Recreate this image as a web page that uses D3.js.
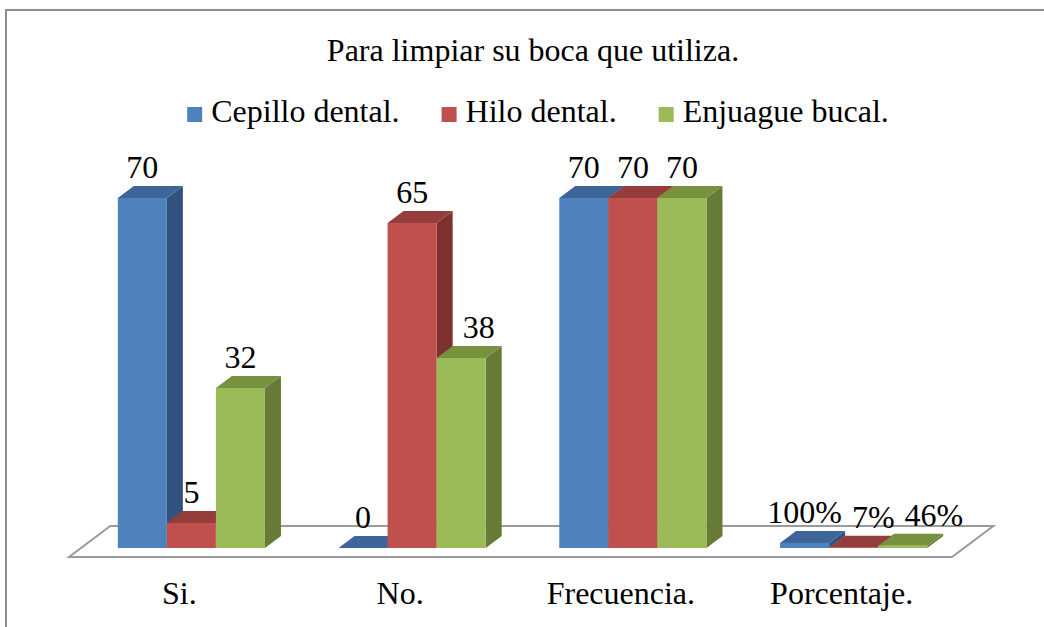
<html>
<head>
<script src="https://d3js.org/d3.v7.min.js"></script>
<style>
  body { margin: 0; background: #fff; }
  text { font-family: "Liberation Serif", "Times New Roman", serif; fill: #000; }
</style>
</head>
<body>
<svg id="chart" width="1044" height="627"></svg>
<script>
const categories = ["Si.", "No.", "Frecuencia.", "Porcentaje."];
const seriesNames = ["Cepillo dental.", "Hilo dental.", "Enjuague bucal."];
const cepillo = [70, 0, 70, 1];
const hilo = [5, 65, 70, 0.07];
const enjuague = [32, 38, 70, 0.46];
const title = "Para limpiar su boca que utiliza.";

const seriesValues = [cepillo, hilo, enjuague];
const colors = [
  { front: "#4f81bd", top: "#3e6597", side: "#30527c" },
  { front: "#c0504d", top: "#953d3b", side: "#7d302e" },
  { front: "#9bbb59", top: "#77923f", side: "#657b37" }
];

const svg = d3.select("#chart");
const fs = 32;

// outer border
svg.append("rect")
  .attr("x", 6).attr("y", 10)
  .attr("width", 1100).attr("height", 700)
  .attr("fill", "none").attr("stroke", "#8c8c8c").attr("stroke-width", 2);

svg.append("text")
  .attr("x", 533).attr("y", 61)
  .attr("text-anchor", "middle")
  .attr("font-size", fs)
  .text(title);

// legend
const legend = svg.append("g");
let lx = 0;
seriesNames.forEach((name, i) => {
  const g = legend.append("g").attr("transform", `translate(${lx},0)`);
  g.append("rect").attr("x", 0).attr("y", -15).attr("width", 15).attr("height", 15)
    .attr("fill", colors[i].front);
  const t = g.append("text").attr("x", 24).attr("y", 0).attr("font-size", fs).text(name);
  lx += 24 + t.node().getComputedTextLength() + 42;
});
lx -= 42;
legend.attr("transform", `translate(${538 - lx / 2},122)`);

// scales
const base = 548;
const y = d3.scaleLinear().domain([0, 70]).range([base, 198]);
const x0 = d3.scaleBand().domain(categories).range([81, 964]);
const x1 = d3.scaleBand().domain(seriesNames).range([0, x0.bandwidth() * 2 / 3]);
const groupOff = (x0.bandwidth() - x0.bandwidth() * 2 / 3) / 2;
const ddx = 16, ddy = -12;   // bar depth
const k = 4 / 3;             // depth slope

// floor
const fl = x0.range()[0], fr = x0.range()[1];
const floorFront = base + 9, floorBack = base - 22;
const floorPts = [
  [fl - 9 * k, floorFront], [fr - 9 * k, floorFront],
  [fr + 22 * k, floorBack], [fl + 22 * k, floorBack]
];
svg.append("polygon")
  .attr("points", floorPts.map(p => p.join(",")).join(" "))
  .attr("fill", "#fff").attr("stroke", "#9a9a9a").attr("stroke-width", 2);

// bars
const bars = svg.append("g");
const labels = svg.append("g");
const pctFmt = d3.format(".0%");
const boxes = [];

categories.forEach((cat, ci) => {
  const obstacles = [];
  seriesNames.forEach((s, si) => {
    const v = seriesValues[si][ci];
    const xl = x0(cat) + groupOff + x1(s);
    const w = x1.bandwidth();
    const yt = y(v);
    const c = colors[si];
    // side
    bars.append("polygon")
      .attr("points", [[xl + w, base], [xl + w, yt], [xl + w + ddx, yt + ddy], [xl + w + ddx, base + ddy]].map(p => p.join(",")).join(" "))
      .attr("fill", c.side);
    // top
    bars.append("polygon")
      .attr("points", [[xl, yt], [xl + w, yt], [xl + w + ddx, yt + ddy], [xl + ddx, yt + ddy]].map(p => p.join(",")).join(" "))
      .attr("fill", c.top);
    // front
    bars.append("rect")
      .attr("x", xl).attr("y", yt)
      .attr("width", w).attr("height", base - yt)
      .attr("fill", c.front);

    const txt = cat === "Porcentaje." ? pctFmt(v) : String(v);
    const t = labels.append("text")
      .attr("y", yt - 20)
      .attr("font-size", fs)
      .text(txt);
    const tw = t.node().getComputedTextLength();
    let left = xl + w / 2 - tw / 2;
    const box = { top: yt - 20 - 0.72 * fs, bottom: yt - 20 };
    let moved = true;
    while (moved) {
      moved = false;
      for (const o of obstacles) {
        const overlapX = left < o.right - 2 && left + tw > o.left + 2;
        const overlapY = box.top < o.bottom - 2 && box.bottom > o.top + 2;
        if (overlapX && overlapY) {
          left = o.right + 10;
          moved = true;
        }
      }
    }
    t.attr("x", left);
    obstacles.push({ left: xl, right: xl + w + ddx, top: yt + ddy, bottom: base });
    obstacles.push({ left: left, right: left + tw, top: box.top, bottom: box.bottom });
  });
});

// category labels
svg.append("g").selectAll("text").data(categories).join("text")
  .attr("x", d => x0(d) + x0.bandwidth() / 2 - 9 * k)
  .attr("y", 604)
  .attr("text-anchor", "middle")
  .attr("font-size", fs)
  .text(d => d);
</script>
</body>
</html>
